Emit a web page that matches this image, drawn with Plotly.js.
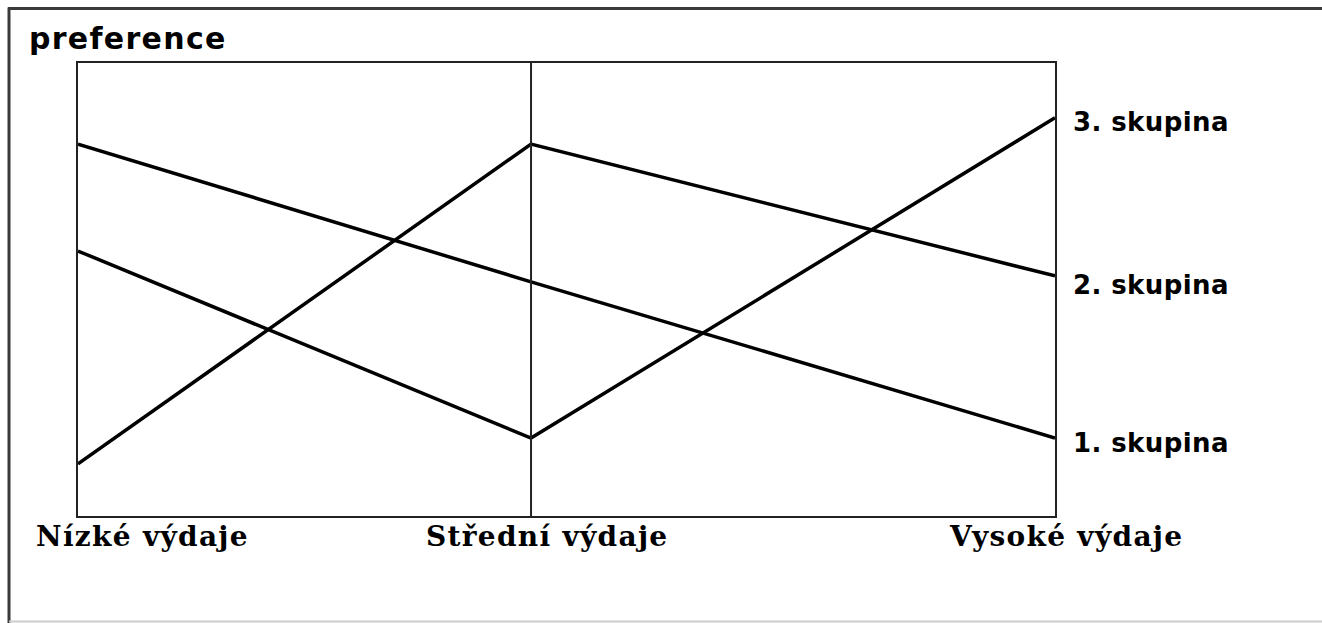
<!DOCTYPE html>
<html>
<head>
<meta charset="utf-8">
<script src="https://cdn.plot.ly/plotly-3.0.1.min.js"></script>
<style>
  html, body { margin: 0; padding: 0; background: #fff; }
  #chart { width: 1322px; height: 623px; }
</style>
</head>
<body>
<div id="chart"></div>
<script>
// Categories and their horizontal positions on the x axis
var categories = ['Nízké výdaje', 'Střední výdaje', 'Vysoké výdaje'];
var xPos = [0, 0.4637, 1];

// Series (preference, arbitrary 0-10 scale)
var groupNames = ['1. skupina', '2. skupina', '3. skupina'];
var group1 = [8.21, 5.17, 1.72];
var group2 = [1.15, 8.21, 5.30];
var group3 = [5.85, 1.72, 8.79];
var yTitle = 'preference';

var W = 1322, H = 623;
var L = 78, R = 1055, T = 62.5, B = 516;
function px(x) { return (x - L) / (R - L); }
function py(y) { return (B - y) / (B - T); }

var lineStyle = {color: '#000', width: 3.5};
var traces = [group1, group2, group3].map(function (vals, i) {
  return {
    x: xPos, y: vals, type: 'scatter', mode: 'lines',
    name: groupNames[i], line: lineStyle, hoverinfo: 'name+y'
  };
});

var sansBold = 'DejaVu Sans';
var serifBold = 'DejaVu Serif';
function spaced(t, s) { return '<b><span style="letter-spacing:' + s + 'px">' + t + '</span></b>'; }

var annotations = [];
// y title
annotations.push({
  xref: 'paper', yref: 'paper', x: px(27), y: py(38),
  xanchor: 'left', yanchor: 'middle', showarrow: false,
  text: spaced(yTitle, 1.3),
  font: {family: sansBold, size: 30, color: '#000'}
});
// category labels
var catLeft = [34, 424, 947];
categories.forEach(function (c, i) {
  annotations.push({
    xref: 'paper', yref: 'paper', x: px(catLeft[i]), y: py(537),
    xanchor: 'left', yanchor: 'middle', showarrow: false,
    text: spaced(c, 1.3),
    font: {family: serifBold, size: 28, color: '#000'}
  });
});
// group labels on right
var groupLabelY = [443, 285, 122];
groupNames.forEach(function (g, i) {
  annotations.push({
    xref: 'paper', yref: 'paper', x: px(1071), y: py(groupLabelY[i]),
    xanchor: 'left', yanchor: 'middle', showarrow: false,
    text: spaced(g, 0.4),
    font: {family: sansBold, size: 26, color: '#000'}
  });
});

var frameColor = '#3a3a3a';
var shapes = [
  // middle category divider
  {type: 'line', xref: 'x', yref: 'paper', x0: xPos[1], x1: xPos[1], y0: 0, y1: 1,
   line: {color: '#222', width: 2}},
  // outer frame: top, left, bottom
  {type: 'line', xref: 'paper', yref: 'paper', x0: px(8), x1: px(1322), y0: py(8), y1: py(8),
   line: {color: frameColor, width: 3}},
  {type: 'line', xref: 'paper', yref: 'paper', x0: px(9), x1: px(9), y0: py(7), y1: py(623),
   line: {color: frameColor, width: 3}},
  {type: 'line', xref: 'paper', yref: 'paper', x0: px(9), x1: px(1322), y0: py(621.5), y1: py(621.5),
   line: {color: '#cccccc', width: 2}}
];

var layout = {
  width: W, height: H,
  margin: {l: L, r: W - R, t: T, b: H - B, pad: 0},
  paper_bgcolor: '#fff', plot_bgcolor: '#fff',
  showlegend: false,
  xaxis: {range: [0, 1], showgrid: false, zeroline: false, showticklabels: false,
          ticks: '', showline: true, mirror: true, linecolor: '#222', linewidth: 2, fixedrange: true},
  yaxis: {range: [0, 10], showgrid: false, zeroline: false, showticklabels: false,
          ticks: '', showline: true, mirror: true, linecolor: '#222', linewidth: 2, fixedrange: true},
  annotations: annotations,
  shapes: shapes
};

Plotly.newPlot('chart', traces, layout, {displayModeBar: false, staticPlot: true});
</script>
</body>
</html>
